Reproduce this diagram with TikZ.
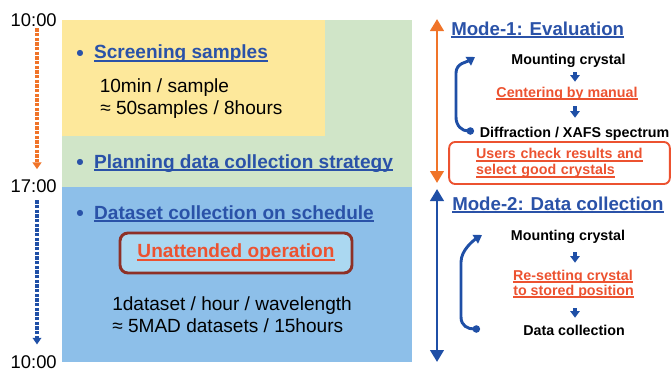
\documentclass[tikz,border=0pt]{standalone}
\usepackage{fontspec}
\setmainfont{Liberation Sans}
\usepackage{tikz}
\usepackage{xcolor}
\usetikzlibrary{calc}
\usetikzlibrary{arrows.meta}

\definecolor{byellow}{HTML}{FDE89B}
\definecolor{bgreen}{HTML}{D0E5C8}
\definecolor{bblue}{HTML}{8DBFE9}
\definecolor{boxblue}{HTML}{ABD8F1}
\definecolor{boxred}{HTML}{8E3026}
\definecolor{hdblue}{HTML}{2A52A8}
\definecolor{orred}{HTML}{EC5230}
\definecolor{orarr}{HTML}{F07429}
\definecolor{dkblue}{HTML}{1F4FA6}

\newsavebox{\ulbox}
\newcommand{\uln}[1]{\leavevmode\sbox{\ulbox}{#1}\rlap{\rule[-2.2pt]{\wd\ulbox}{1.1pt}}\usebox{\ulbox}}
\newcommand{\bul}{\raisebox{-1pt}{\fontsize{16}{16}\selectfont •}\hspace{7.8pt}}

\tikzset{
  tlabel/.style={anchor=base east, inner sep=0pt, font=\fontsize{13.8}{16}\selectfont},
  topic/.style={anchor=base west, inner sep=0pt, text=hdblue, font=\fontsize{14.3}{16}\selectfont\bfseries},
  modehd/.style={topic, font=\fontsize{14}{16}\selectfont\bfseries},
  rate/.style={anchor=base west, inner sep=0pt, font=\fontsize{14.3}{16}\selectfont},
  stage/.style={anchor=base, inner sep=0pt, font=\fontsize{10.7}{12}\selectfont\bfseries},
  stagered/.style={stage, text=orred},
  opbox/.style={draw=boxred, fill=boxblue, line width=2.2pt, rounded corners=6pt,
    minimum width=174pt, minimum height=30pt, text=orred, font=\fontsize{14.3}{16}\selectfont\bfseries},
  usrbox/.style={draw=orred, line width=1.4pt, rounded corners=4.5pt, text=orred, align=left,
    text width=125pt, inner xsep=20.25pt, inner ysep=0pt, minimum height=31.5pt,
    font=\fontsize{10.7}{12}\selectfont\bfseries},
  flowarr/.style={-{Triangle[width=7pt,length=5pt]}, line width=2.3pt, dkblue},
  looparr/.style={{Circle[length=5.5pt]}-{Triangle[width=7.5pt,length=6pt]}, line width=2.2pt, dkblue},
  spanarr/.style={{Triangle[width=10pt,length=9pt]}-{Triangle[width=10pt,length=9pt]}, line width=2.2pt},
  timearr/.style={-{Triangle[width=6.5pt,length=5pt]}, line width=2.4pt, dash pattern=on 2.3pt off 1.2pt},
}

\begin{document}
\begin{tikzpicture}[x=0.75pt,y=-0.75pt]
\useasboundingbox (0,0) rectangle (671,371);

\fill[bgreen] (62,20) rectangle (412,187);
\fill[byellow] (62,20) rectangle (325,136);
\fill[bblue] (62,187) rectangle (412,362);

% time axis
\node[tlabel] (t1) at (57,26.7) {10:00};
\node[tlabel] (t2) at (57,192) {17:00};
\node[tlabel] (t3) at (57,368.5) {10:00};
\coordinate (tcol) at (37,0);
\draw[timearr, orarr, shorten <=1pt, shorten >=7.3pt] (tcol |- t1.south) -- (tcol |- t2.north);
\draw[timearr, dkblue, shorten <=6pt, shorten >=8.2pt] (tcol |- t2.south) -- (tcol |- t3.north);

\node[topic] (scr) at (76,58.7) {\bul\uln{Screening samples}};
\node[rate] (sr1) at (99.5,92) {10min / sample};
\node[rate] (sr2) at (100,114.7) {≈ 50samples / 8hours};
\node[topic] (plan) at (76,168) {\bul\uln{Planning data collection strategy}};
\node[topic] (dset) at (76,219) {\bul\uln{Dataset collection on schedule}};
\node[opbox] (unatt) at (236,253) {\uln{Unattended operation}};
\node[rate] (dr1) at (112,310) {1dataset / hour / wavelength};
\node[rate] (dr2) at (112,332) {≈ 5MAD datasets / 15hours};

% mode 1
\coordinate (m1top) at (437,19);
\coordinate (m1bot) at (437,183);
\draw[spanarr, orarr] (m1top) -- (m1bot);
\node[modehd] (mode1) at (451,35) {\uln{Mode-1: Evaluation}};
\node[stage] (mnt1) at (568.5,64) {Mounting crystal};
\node[stagered] (cen1) at (567,97) {\uln{Centering by manual}};
\node[stage] (dif1) at (574.5,137) {Diffraction / XAFS spectrum};
\node[usrbox] (usr) at (559.5,163) {\uln{Users check results and}\\\uln{select good crystals}};
\coordinate (acol) at (575,0);
\draw[flowarr, shorten <=3.75pt, shorten >=3.5pt] (acol |- mnt1.south) -- (acol |- cen1.north);
\draw[flowarr, shorten <=4.5pt, shorten >=6.5pt] (acol |- cen1.south) -- (acol |- dif1.north);
\coordinate (l1a) at (474,131);
\coordinate (l1b) at (475,57);
\draw[looparr] (l1a) .. controls +(-12,0) and +(0,9) .. ++(-18,-14) -- ++(0,-44)
  .. controls +(0,-10) and +(-8,5) .. (l1b);

% mode 2
\coordinate (m2top) at (437,189);
\coordinate (m2bot) at (437,362);
\draw[spanarr, dkblue] (m2top) -- (m2bot);
\node[modehd] (mode2) at (452,210) {\uln{Mode-2: Data collection}};
\node[stage] (mnt2) at (568,240) {Mounting crystal};
\node[stagered] (rst1) at (573,280) {\uln{Re-setting crystal}};
\node[stagered] (rst2) at (573.5,295) {\uln{to stored position}};
\node[stage] (dat) at (574,335) {Data collection};
\draw[flowarr, shorten <=6.75pt, shorten >=5pt] (acol |- mnt2.south) -- (acol |- rst1.north);
\draw[flowarr, shorten <=7.5pt, shorten >=5pt] (acol |- rst2.south) -- (acol |- dat.north);
\coordinate (l2a) at (480,329);
\coordinate (l2b) at (482,235);
\draw[looparr] (l2a) .. controls +(-12,0) and +(0,9) .. ++(-19,-12) -- ++(0,-55)
  .. controls +(0,-12) and +(-8,5) .. (l2b);
\end{tikzpicture}
\end{document}
